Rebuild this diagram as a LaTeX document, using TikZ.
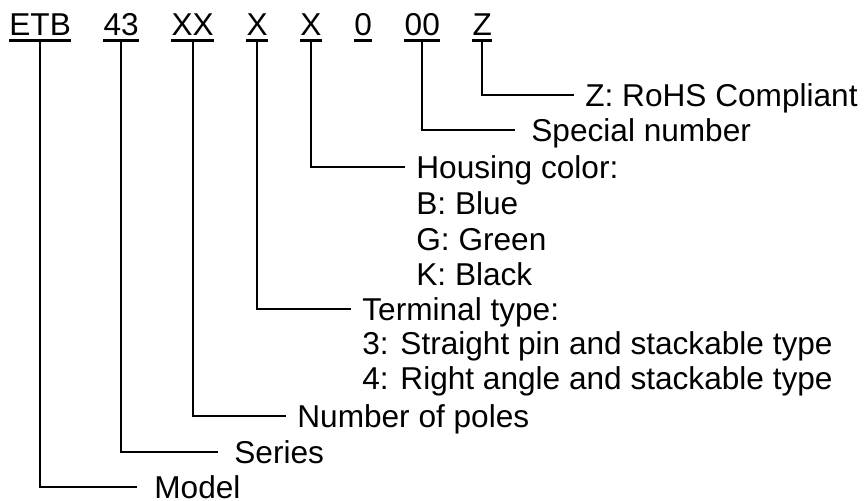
\documentclass[tikz,border=0pt]{standalone}
\usepackage{fontspec}
\setmainfont{Liberation Sans}
\usepackage{tikz}
\usetikzlibrary{positioning}
\tikzstyle{part} = [inner sep=0pt, text height=11.3pt, text depth=2.25pt,
    anchor=base west]
\tikzstyle{desc} = [inner xsep=5.5pt, inner ysep=0pt, text height=11.3pt,
    text depth=0pt, anchor=west]
\tikzstyle{uline} = [line width=1.5pt]
\tikzstyle{branch} = [line width=1pt]

\begin{document}
\begin{tikzpicture}[x=0.5pt, y=-0.5pt, font=\fontsize{15.8}{19}\selectfont]
            \useasboundingbox (0,0) rectangle (864,501);
            % Code parts
            \node[part] (etb) at (9,35.5) {ETB};
            \node[part, right=16pt of etb] (ser) {43};
            \node[part, right=16pt of ser] (pol) {XX};
            \node[part, right=16pt of pol] (ter) {X};
            \node[part, right=16pt of ter] (hou) {X};
            \node[part, right=16pt of hou] (zero) {0};
            \node[part, right=16pt of zero] (spc) {00};
            \node[part, right=16pt of spc] (roh) {Z};
            \foreach \n in {etb,ser,pol,ter,hou,zero,spc,roh}
                \draw[uline] (\n.south west) -- (\n.south east);
            % Descriptions
            \node[desc] (lrohs) at (574,95) {Z: RoHS Compliant};
            \node[desc] (lspecial) at (520,130) {Special number};
            \node[desc] (lhousing) at (405,167) {Housing color:};
            \node[desc, below=6.5pt of lhousing.south west, anchor=north west]
            (lblue) {B: Blue};
            \node[desc, below=6pt of lblue.south west, anchor=north west]
            (lgreen) {G: Green};
            \node[desc, below=6pt of lgreen.south west, anchor=north west]
            (lblack) {K: Black};
            \node[desc] (lterm) at (351,309) {Terminal type:};
            \node[desc, below=5.5pt of lterm.south west, anchor=north west]
            (lstraight) {3: Straight pin and stackable type};
            \node[desc, below=5.5pt of lstraight.south west, anchor=north west]
            (lright) {4: Right angle and stackable type};
            \node[desc] (lpoles) at (286,416) {Number of poles};
            \node[desc] (lseries) at (223,452) {Series};
            \node[desc] (lmodel) at (143,487) {Model};
            % Connectors
            \draw[branch] (roh.south) |- (lrohs.west);
            \draw[branch, shorten >=2.5pt] (spc.south) |- (lspecial.west);
            \draw[branch] (hou.south) |- (lhousing.west);
            \draw[branch] (ter.south) |- (lterm.west);
            \draw[branch] (pol.south) |- (lpoles.west);
            \draw[branch, shorten >=2.5pt] (ser.south) |- (lseries.west);
            \draw[branch, shorten >=3pt] (etb.south) |- (lmodel.west);

        \end{tikzpicture}
\end{document}
